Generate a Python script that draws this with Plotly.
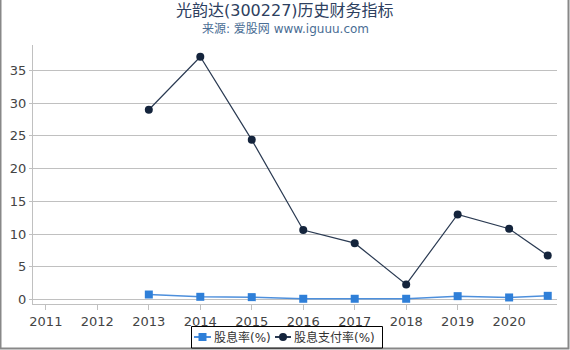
import plotly.graph_objects as go

years = [2013, 2014, 2015, 2016, 2017, 2018, 2019, 2020, 2020.75]
dividend_yield = [0.75, 0.4, 0.35, 0.1, 0.1, 0.1, 0.5, 0.3, 0.55]
payout_ratio = [29.0, 37.1, 24.4, 10.6, 8.6, 2.3, 13.0, 10.8, 6.7]
tick_years = [2011, 2012, 2013, 2014, 2015, 2016, 2017, 2018, 2019, 2020]
y_ticks = [0, 5, 10, 15, 20, 25, 30, 35]
series_names = ["股息率(%)", "股息支付率(%)"]

W, H = 570, 350
L, R, T, B = 33, 13, 45, 46
pw, ph = W - L - R, H - T - B

C1_LINE, C1_MARK = "#4d8fdc", "#2f7fd8"
C2_LINE, C2_MARK = "#2a3a52", "#14243c"

fig = go.Figure()
fig.add_trace(go.Scatter(
    x=years, y=dividend_yield, name=series_names[0], mode="lines+markers",
    line=dict(color=C1_LINE, width=1.5),
    marker=dict(symbol="square", size=8, color=C1_MARK),
))
fig.add_trace(go.Scatter(
    x=years, y=payout_ratio, name=series_names[1], mode="lines+markers",
    line=dict(color=C2_LINE, width=1.2),
    marker=dict(symbol="circle", size=8, color=C2_MARK),
))

def px2paper_x(p):
    return (p - L) / pw

def px2paper_y(p):
    return (H - B - p) / ph

fig.add_shape(type="rect", xref="paper", yref="paper",
              x0=px2paper_x(0.5), x1=px2paper_x(568.5),
              y0=px2paper_y(348.5), y1=px2paper_y(-5),
              line=dict(color="#888888", width=2), layer="below")

fig.add_annotation(text="光韵达(300227)历史财务指标", xref="paper", yref="paper",
                   x=px2paper_x(285), y=px2paper_y(10), xanchor="center", yanchor="middle",
                   showarrow=False,
                   font=dict(size=16, color="#2d4060", family="DejaVu Sans, Noto Sans CJK SC"))
fig.add_annotation(text="来源: 爱股网 www.iguuu.com", xref="paper", yref="paper",
                   x=px2paper_x(285), y=px2paper_y(29), xanchor="center", yanchor="middle",
                   showarrow=False,
                   font=dict(size=12, color="#4a6d94", family="DejaVu Sans, Noto Sans CJK SC"))

# custom legend
LY = 337
fig.add_shape(type="rect", xref="paper", yref="paper",
              x0=px2paper_x(191.5), x1=px2paper_x(382.5),
              y0=px2paper_y(348), y1=px2paper_y(326.5),
              line=dict(color="#000000", width=1), fillcolor="white", layer="above")
legend_items = [
    (194, 211, "square", C1_LINE, C1_MARK, 213, series_names[0]),
    (275, 291, "circle", C2_LINE, C2_MARK, 293, series_names[1]),
]
for (lx0, lx1, sym, lc, mc, tx, name) in legend_items:
    fig.add_shape(type="line", xref="paper", yref="paper",
                  x0=px2paper_x(lx0), x1=px2paper_x(lx1),
                  y0=px2paper_y(LY), y1=px2paper_y(LY),
                  line=dict(color=lc, width=2), layer="above")
    cx = (lx0 + lx1) / 2
    if sym == "square":
        fig.add_shape(type="rect", xref="paper", yref="paper",
                      x0=px2paper_x(cx - 4), x1=px2paper_x(cx + 4),
                      y0=px2paper_y(LY + 4), y1=px2paper_y(LY - 4),
                      line=dict(width=0), fillcolor=mc, layer="above")
    else:
        fig.add_shape(type="circle", xref="paper", yref="paper",
                      x0=px2paper_x(cx - 4), x1=px2paper_x(cx + 4),
                      y0=px2paper_y(LY + 4), y1=px2paper_y(LY - 4),
                      line=dict(width=0), fillcolor=mc, layer="above")
    fig.add_annotation(text=name, xref="paper", yref="paper",
                       x=px2paper_x(tx), y=px2paper_y(LY), xanchor="left", yanchor="middle",
                       showarrow=False, borderpad=0,
                       font=dict(size=12, color="#333333", family="DejaVu Sans, Noto Sans CJK SC"))

fig.update_layout(
    width=W, height=H,
    margin=dict(l=L, r=R, t=T, b=B, autoexpand=False),
    paper_bgcolor="white", plot_bgcolor="white",
    font=dict(family="DejaVu Sans, Noto Sans CJK SC", size=12, color="#444444"),
    showlegend=False,
    xaxis=dict(
        range=[2010.75, 2020.93], tickvals=tick_years, ticktext=[str(y) for y in tick_years],
        showgrid=False, zeroline=False, showline=True, linecolor="#c0c0c0", linewidth=1,
        ticks="outside", ticklen=5, tickcolor="#c0c0c0",
        tickfont=dict(size=13, color="#444444"),
    ),
    yaxis=dict(
        range=[-0.7, 38.9], tickvals=y_ticks,
        showgrid=True, gridcolor="#c0c0c0", gridwidth=1, zeroline=False,
        showline=True, linecolor="#c0c0c0", linewidth=1,
        ticks="outside", ticklen=3, tickcolor="#c0c0c0",
        tickfont=dict(size=13, color="#444444"),
    ),
)

fig.write_html("out.html")
